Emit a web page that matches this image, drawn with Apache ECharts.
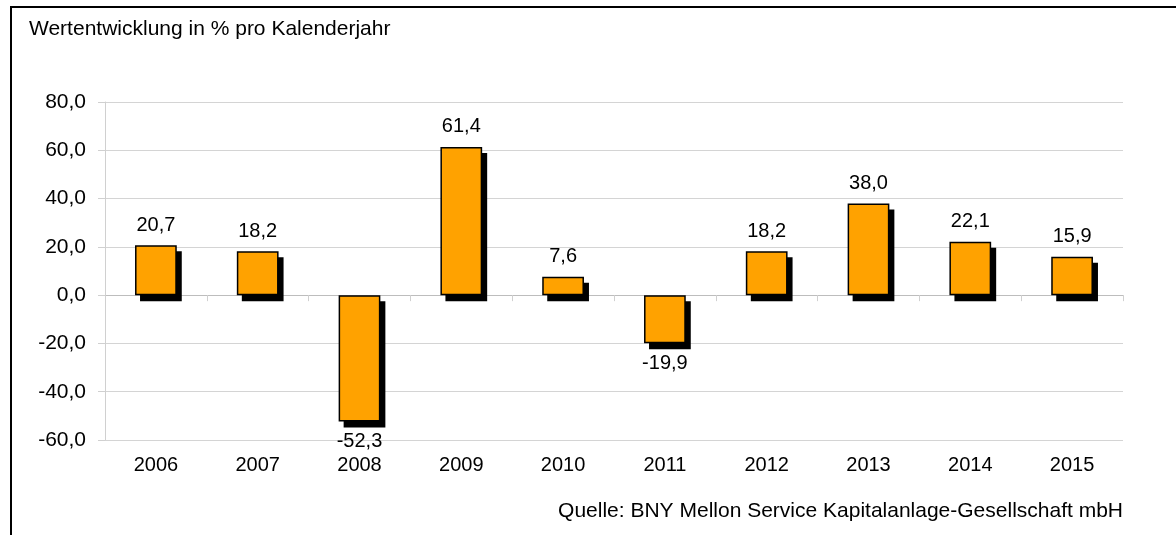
<!DOCTYPE html>
<html>
<head>
<meta charset="utf-8">
<script src="https://cdn.jsdelivr.net/npm/echarts@6/dist/echarts.min.js"></script>
<style>
  html, body { margin: 0; padding: 0; background: #fff; }
  #chart { width: 1176px; height: 535px; }
</style>
</head>
<body>
<div id="chart"></div>
<script>
var years = ['2006', '2007', '2008', '2009', '2010', '2011', '2012', '2013', '2014', '2015'];
var values = [20.7, 18.2, -52.3, 61.4, 7.6, -19.9, 18.2, 38.0, 22.1, 15.9];
var yTicks = { min: -60, max: 80, interval: 20 };
var titleText = 'Wertentwicklung in % pro Kalenderjahr';
var sourceText = 'Quelle: BNY Mellon Service Kapitalanlage-Gesellschaft mbH';

function fmt(v) {
  return Number(v).toFixed(1).replace('.', ',');
}

var font = 'Liberation Sans, Arial, sans-serif';

var barData = values.map(function(v) {
  return {
    value: v,
    label: { position: v >= 0 ? 'top' : 'bottom' }
  };
});

// shadow drawn behind each bar, shifted right/down
function renderShadow(params, api) {
  var top = api.coord([api.value(0), api.value(1)]);
  var base = api.coord([api.value(0), 0]);
  var w = api.size([1, 0])[0] * 0.41;
  var y0 = Math.min(top[1], base[1]);
  var h = Math.abs(base[1] - top[1]);
  return {
    type: 'rect',
    shape: { x: top[0] - w / 2 + 5, y: y0 + 6, width: w, height: h },
    style: { fill: '#000' }
  };
}

var option = {
  backgroundColor: '#fff',
  animation: false,
  textStyle: { fontFamily: font },
  graphic: [{
    type: 'rect',
    shape: { x: 11, y: 7, width: 1300, height: 700 },
    style: { fill: 'none', stroke: '#000', lineWidth: 2 }
  }, {
    type: 'text',
    left: 29, top: 19,
    style: { text: titleText, font: '21px ' + font, fill: '#000' }
  }, {
    type: 'text',
    right: 53, top: 501,
    style: { text: sourceText, font: '21px ' + font, fill: '#000' }
  }],
  grid: { left: 105, right: 53, top: 102, bottom: 95 },
  xAxis: [{
    type: 'category',
    data: years,
    position: 'bottom',
    axisLine: { show: false, onZero: false },
    axisTick: { show: false },
    axisLabel: { color: '#000', fontSize: 20, margin: 15, fontFamily: font }
  }, {
    type: 'category',
    data: years,
    position: 'bottom',
    axisLine: { show: true, onZero: true, lineStyle: { color: '#bdbdbd', width: 1 } },
    axisTick: { show: true, length: 6, lineStyle: { color: '#d0d0d0' } },
    axisLabel: { show: false }
  }],
  yAxis: {
    type: 'value',
    min: yTicks.min,
    max: yTicks.max,
    interval: yTicks.interval,
    axisLine: { show: true, lineStyle: { color: '#d0d0d0' } },
    axisTick: { show: true, length: 7, lineStyle: { color: '#d0d0d0' } },
    axisLabel: { color: '#000', fontSize: 21, margin: 19, fontFamily: font, formatter: fmt },
    splitLine: { show: true, lineStyle: { color: '#d4d4d4', width: 1 } }
  },
  series: [{
    type: 'custom',
    xAxisIndex: 0,
    z: 1,
    renderItem: renderShadow,
    data: values.map(function(v, i) { return [i, v]; }),
    silent: true
  }, {
    type: 'bar',
    xAxisIndex: 0,
    z: 2,
    data: barData,
    barWidth: '41%',
    itemStyle: {
      color: '#ffa200',
      borderColor: '#000',
      borderWidth: 1.5
    },
    label: {
      show: true,
      color: '#000',
      fontSize: 20,
      fontFamily: font,
      distance: 10,
      formatter: function(p) { return fmt(p.value); }
    }
  }]
};

var myChart = echarts.init(document.getElementById('chart'));
myChart.setOption(option);
</script>
</body>
</html>
